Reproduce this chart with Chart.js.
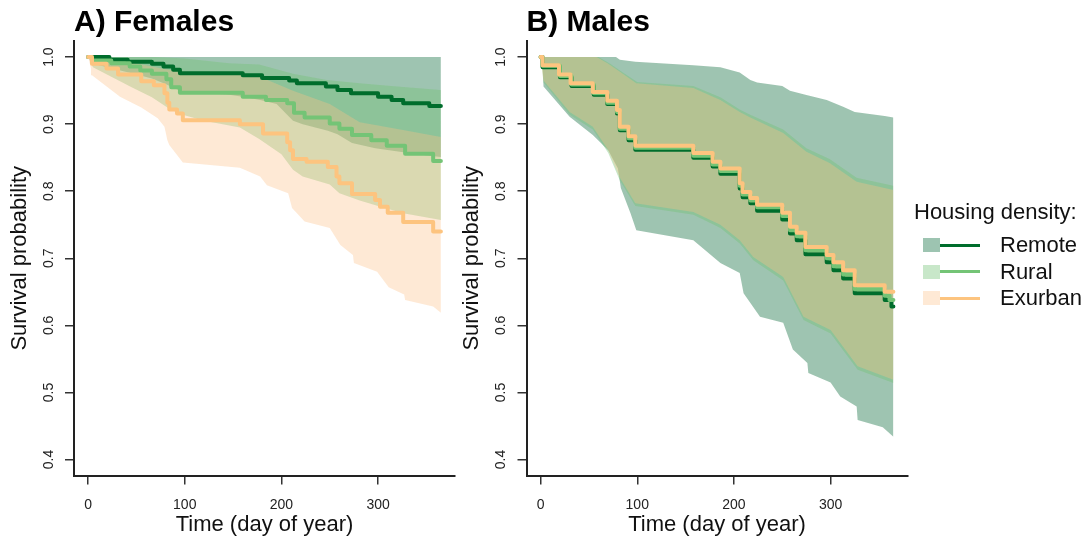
<!DOCTYPE html>
<html>
<head>
<meta charset="utf-8">
<title>Survival by housing density</title>
<script src="https://cdn.jsdelivr.net/npm/chart.js@4.4.0/dist/chart.umd.min.js"></script>
<style>
  html, body { margin: 0; padding: 0; background: #fff; }
  body {
    width: 1089px; height: 544px; position: relative; overflow: hidden;
    font-family: "Liberation Sans", Arial, Helvetica, sans-serif; color: #111;
  }
  .panel { position: absolute; top: 0; width: 470px; height: 544px; }
  #panelA { left: 0; }
  #panelB { left: 452px; }
  .lg-title { position: absolute; left: 914px; top: 199px; font-size: 22px; line-height: 26px; white-space: nowrap; }
  .lg-row { position: absolute; left: 923px; height: 26px; width: 166px; }
  .lg-box { position: absolute; left: 0; top: 6px; width: 17px; height: 14px; }
  .lg-line { position: absolute; left: 17px; top: 11.5px; width: 40px; height: 3px; }
  .lg-text { position: absolute; left: 77px; top: 0; font-size: 22px; line-height: 26px; white-space: nowrap; }
</style>
</head>
<body>
<canvas id="panelA" class="panel" width="470" height="544"></canvas>
<canvas id="panelB" class="panel" width="470" height="544"></canvas>
<div id="legend"></div>

<script>
// ---- data (day of year, survival probability) ----
const groups = ['Remote', 'Rural', 'Exurban'];
const xTicks = [0, 100, 200, 300];
const yTicks = [0.4, 0.5, 0.6, 0.7, 0.8, 0.9, 1.0];

// A) Females
const femRemote = [[0,1],[22,.996],[41,.993],[66,.99],[78,.986],[88,.981],[95,.976],[160,.973],[180,.969],[208,.965],[216,.961],[246,.956],[258,.951],[272,.946],[300,.941],[314,.936],[326,.931],[353,.927],[365,.927]];
const femRemoteHi = [[0,1],[365,1]];
const femRemoteLo = [[0,1],[5,.99],[25,.983],[45,.976],[66,.968],[80,.96],[95,.95],[146,.944],[160,.941],[178,.936],[195,.93],[212,.905],[222,.9],[248,.89],[258,.885],[273,.872],[297,.864],[326,.858],[353,.853],[365,.851]];

const femRural = [[0,1],[4,.995],[24,.991],[43,.986],[54,.98],[66,.975],[81,.967],[86,.955],[95,.947],[160,.941],[184,.936],[206,.931],[213,.917],[224,.91],[250,.901],[260,.893],[273,.884],[293,.876],[309,.868],[328,.856],[357,.845],[365,.845]];
const femRuralHi = [[0,1],[70,1],[100,.998],[146,.991],[177,.989],[195,.982],[212,.975],[247,.966],[281,.961],[320,.956],[365,.951]];
const femRuralLo = [[0,1],[5,.985],[25,.97],[45,.955],[66,.94],[82,.925],[95,.915],[120,.905],[157,.895],[177,.878],[200,.855],[212,.832],[222,.822],[250,.81],[260,.797],[281,.786],[300,.778],[326,.767],[365,.757]];

const femExurban = [[0,1],[4,.99],[19,.983],[31,.974],[55,.964],[68,.958],[79,.946],[82,.932],[84,.922],[92,.916],[98,.906],[157,.9],[181,.886],[206,.873],[209,.861],[212,.848],[226,.844],[248,.836],[257,.822],[260,.812],[273,.796],[297,.787],[302,.777],[310,.768],[326,.754],[357,.74],[365,.74]];
const femExurbanHi = [[0,1],[30,.995],[60,.988],[80,.982],[100,.978],[146,.975],[177,.971],[212,.95],[250,.93],[281,.903],[300,.898],[330,.89],[365,.881]];
const femExurbanLo = [[0,1],[3,.983],[4,.973],[33,.941],[55,.925],[72,.909],[79,.896],[82,.876],[84,.869],[98,.843],[157,.835],[178,.822],[185,.809],[207,.797],[211,.775],[224,.755],[250,.745],[261,.72],[274,.705],[275,.693],[299,.68],[311,.657],[327,.646],[328,.638],[357,.628],[365,.619]];

// B) Males
const maleRemote = [[0,1],[2,.985],[20,.97],[32,.957],[55,.944],[69,.93],[79,.916],[82,.891],[91,.876],[98,.862],[158,.85],[178,.837],[186,.826],[206,.804],[209,.791],[217,.782],[224,.771],[250,.758],[258,.737],[265,.727],[274,.706],[296,.694],[303,.682],[313,.67],[325,.648],[356,.638],[363,.628],[365,.628]];
const maleRemoteHi = [[0,1],[78,1],[82,.996],[98,.993],[158,.988],[186,.985],[206,.977],[217,.966],[224,.962],[250,.957],[258,.95],[274,.944],[296,.936],[313,.926],[325,.918],[356,.912],[365,.91]];
const maleRemoteLo = [[0,1],[2,.99],[3,.956],[30,.911],[54,.884],[70,.861],[80,.834],[83,.805],[93,.767],[99,.742],[158,.727],[186,.693],[206,.678],[210,.648],[227,.613],[251,.604],[261,.564],[276,.544],[277,.529],[300,.515],[310,.494],[327,.479],[328,.459],[354,.448],[365,.434]];

const maleRural = [[0,1],[2,.987],[20,.972],[32,.959],[55,.946],[69,.932],[79,.918],[82,.893],[91,.879],[98,.865],[158,.853],[178,.84],[186,.83],[206,.808],[209,.795],[217,.786],[224,.776],[250,.763],[258,.742],[265,.733],[274,.712],[296,.7],[303,.688],[313,.676],[325,.654],[356,.644],[361,.638],[365,.638]];
const maleRuralHi = [[0,1],[60,1],[72,.99],[84,.978],[100,.963],[158,.957],[186,.94],[206,.922],[217,.914],[251,.892],[275,.864],[299,.848],[327,.82],[365,.808]];
const maleRuralLo = [[0,1],[3,.962],[30,.914],[54,.892],[70,.857],[82,.816],[98,.778],[158,.765],[186,.745],[206,.722],[220,.697],[251,.667],[272,.608],[300,.588],[328,.534],[365,.514]];

const maleExurban = [[0,1],[2,.988],[19,.974],[31,.961],[54,.948],[69,.935],[79,.921],[82,.896],[91,.882],[98,.868],[158,.857],[178,.844],[186,.834],[206,.812],[209,.799],[217,.79],[224,.78],[250,.768],[258,.747],[265,.738],[274,.717],[296,.705],[303,.694],[313,.682],[325,.66],[356,.65],[365,.65]];
const maleExurbanHi = [[0,1],[58,1],[70,.99],[82,.978],[99,.961],[158,.954],[186,.936],[206,.918],[217,.91],[251,.887],[275,.859],[299,.842],[327,.814],[365,.802]];
const maleExurbanLo = [[0,1],[3,.965],[30,.918],[54,.896],[70,.861],[82,.82],[98,.782],[158,.769],[186,.75],[206,.727],[220,.702],[251,.672],[272,.613],[300,.593],[328,.539],[365,.519]];

// ---- styling ----
const lineColors = ['#006d2c', '#74c476', '#fdc47f'];
const bandColors = ['rgba(0,100,50,0.38)', 'rgba(116,196,118,0.4)', 'rgba(253,192,134,0.35)'];
const swatchColors = ['#9dc4b1', '#c8e7c9', '#fee9d5'];
const FONT = '"Liberation Sans", Arial, Helvetica, sans-serif';

Chart.defaults.font.family = FONT;
Chart.defaults.color = '#111';

const toXY = pts => pts.map(([x, y]) => ({ x, y }));

// y tick labels in R are written parallel to the axis
const rotatedYLabels = {
  id: 'rotatedYLabels',
  afterDraw(chart) {
    const { ctx, chartArea, scales } = chart;
    ctx.save();
    ctx.font = '14px ' + FONT;
    ctx.fillStyle = '#222';
    ctx.textAlign = 'center';
    ctx.textBaseline = 'middle';
    yTicks.forEach(v => {
      ctx.save();
      ctx.translate(chartArea.left - 25, scales.y.getPixelForValue(v));
      ctx.rotate(-Math.PI / 2);
      ctx.fillText(v.toFixed(1), 0, 0);
      ctx.restore();
    });
    ctx.restore();
  }
};

function makePanel(id, title, lines, bands, axisWidth) {
  const datasets = [];
  // confidence bands: upper edge filled down to the lower edge
  bands.forEach(([hi, lo], i) => {
    datasets.push({
      label: groups[i] + ' upper', data: toXY(hi), borderWidth: 0, borderColor: 'transparent',
      pointRadius: 0, fill: '+1', backgroundColor: bandColors[i], order: 30 - i * 10
    });
    datasets.push({
      label: groups[i] + ' lower', data: toXY(lo), borderWidth: 0, borderColor: 'transparent',
      pointRadius: 0, fill: false, order: 29 - i * 10
    });
  });
  // Kaplan-Meier step curves
  lines.forEach((pts, i) => {
    datasets.push({
      label: groups[i], data: toXY(pts), stepped: 'before', borderColor: lineColors[i],
      borderWidth: 4, borderCapStyle: 'round', borderJoinStyle: 'round',
      pointRadius: 0, fill: false, order: 3 - i
    });
  });

  const axisGrid = { drawOnChartArea: false, drawTicks: true, tickLength: 9, color: '#333', lineWidth: 1.5 };
  const axisBorder = { display: true, color: '#222', width: 2 };

  new Chart(document.getElementById(id), {
    type: 'line',
    data: { datasets },
    plugins: [rotatedYLabels],
    options: {
      responsive: false,
      animation: false,
      layout: { padding: { top: 0, right: 470 - axisWidth - 381, bottom: 0, left: 0 } },
      scales: {
        x: {
          type: 'linear', min: -14.6, max: 379.6,
          afterBuildTicks: s => { s.ticks = xTicks.map(v => ({ value: v })); },
          afterFit: s => { s.height = 68.4; },
          ticks: { font: { size: 14 }, color: '#222', padding: 12, callback: v => String(v) },
          grid: axisGrid, border: axisBorder,
          title: { display: true, text: 'Time (day of year)', font: { size: 22 }, color: '#111', padding: { top: 0, bottom: 6 } }
        },
        y: {
          type: 'linear', min: 0.376, max: 1.024,
          afterBuildTicks: s => { s.ticks = yTicks.map(v => ({ value: v })); },
          afterFit: s => { s.width = axisWidth; },
          ticks: { display: false },
          grid: axisGrid, border: axisBorder,
          title: { display: true, text: 'Survival probability', font: { size: 22 }, color: '#111', padding: { top: 7, bottom: 0 } }
        }
      },
      plugins: {
        legend: { display: false },
        tooltip: { enabled: false },
        title: {
          display: true, text: title, align: 'start', fullSize: false, color: '#000',
          font: { size: 30, weight: 'bold' }, padding: { top: 5, bottom: 0 }
        }
      }
    }
  });
}

makePanel('panelA', 'A) Females',
  [femRemote, femRural, femExurban],
  [[femRemoteHi, femRemoteLo], [femRuralHi, femRuralLo], [femExurbanHi, femExurbanLo]], 74);

makePanel('panelB', 'B) Males',
  [maleRemote, maleRural, maleExurban],
  [[maleRemoteHi, maleRemoteLo], [maleRuralHi, maleRuralLo], [maleExurbanHi, maleExurbanLo]], 74.5);

// ---- legend ----
const legend = document.getElementById('legend');
const lgTitle = document.createElement('div');
lgTitle.className = 'lg-title';
lgTitle.textContent = 'Housing density:';
legend.appendChild(lgTitle);
groups.forEach((g, i) => {
  const row = document.createElement('div');
  row.className = 'lg-row';
  row.style.top = (232 + i * 26.7) + 'px';
  row.innerHTML = '<div class="lg-box" style="background:' + swatchColors[i] + '"></div>' +
    '<div class="lg-line" style="background:' + lineColors[i] + '"></div>' +
    '<div class="lg-text">' + g + '</div>';
  legend.appendChild(row);
});
</script>
</body>
</html>
